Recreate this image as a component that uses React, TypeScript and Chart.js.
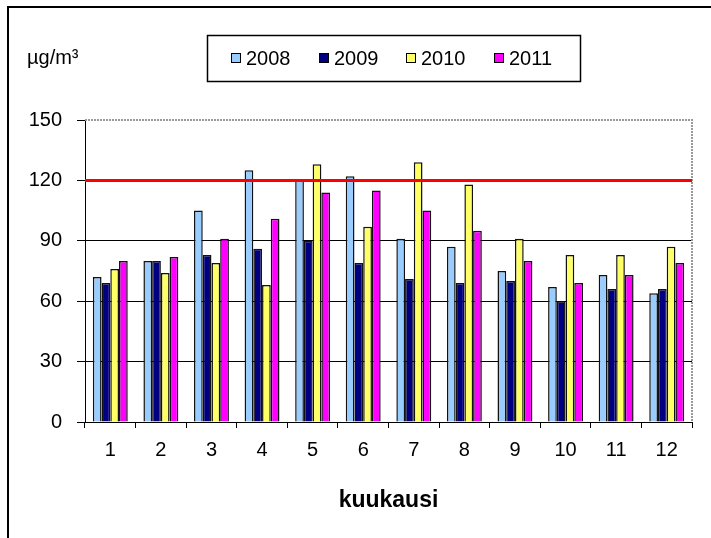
import React, { useEffect, useRef } from "react";
import { Chart, registerables } from "chart.js";

Chart.register(...registerables);

const categories = ["1", "2", "3", "4", "5", "6", "7", "8", "9", "10", "11", "12"];
const seriesLabels = ["2008", "2009", "2010", "2011"];
const values2008 = [72, 80, 105, 125, 120, 122, 91, 87, 75, 67, 73, 64];
const values2009 = [69, 80, 83, 86, 90, 79, 71, 69, 70, 60, 66, 66];
const values2010 = [76, 74, 79, 68, 128, 97, 129, 118, 91, 83, 83, 87];
const values2011 = [80, 82, 91, 101, 114, 115, 105, 95, 80, 69, 73, 79];
const seriesColors = ["#99CCFF", "#000080", "#FFFF66", "#FF00FF"];
const yMin = 0;
const yMax = 150;
const yStep = 30;
const limitValue = 120;
const unitLabel = "µg/m³";
const xTitle = "kuukausi";

const FONT = "'Liberation Sans', Arial, sans-serif";

const decorPlugin = {
  id: "decor",
  beforeDatasetsDraw(chart: any) {
    const { ctx, chartArea } = chart;
    ctx.save();
    ctx.strokeStyle = "#9a9a9a";
    ctx.lineWidth = 2;
    ctx.setLineDash([2, 1]);
    ctx.beginPath();
    ctx.moveTo(chartArea.left, chartArea.top);
    ctx.lineTo(chartArea.right, chartArea.top);
    ctx.lineTo(chartArea.right, chartArea.bottom);
    ctx.stroke();
    ctx.restore();
  },
  afterDatasetsDraw(chart: any) {
    const { ctx, chartArea, scales } = chart;
    const y = scales.y.getPixelForValue(limitValue);
    ctx.save();
    ctx.strokeStyle = "#FF0000";
    ctx.lineWidth = 3;
    ctx.beginPath();
    ctx.moveTo(chartArea.left, y);
    ctx.lineTo(chartArea.right, y);
    ctx.stroke();
    ctx.restore();
  },
  afterDraw(chart: any) {
    const { ctx } = chart;
    ctx.save();
    // outer frame (top and left)
    ctx.fillStyle = "#000";
    ctx.fillRect(7, 6, 704, 2);
    ctx.fillRect(7, 6, 2, 532);
    // unit label
    ctx.font = `20px ${FONT}`;
    ctx.textBaseline = "middle";
    ctx.textAlign = "left";
    ctx.fillText(unitLabel, 27, 58);
    // legend
    ctx.strokeStyle = "#000";
    ctx.lineWidth = 1.5;
    ctx.strokeRect(207.5, 35.5, 373, 46);
    const starts = [231, 319, 406, 494];
    chart.data.datasets.forEach((ds: any, i: number) => {
      const x = starts[i];
      ctx.fillStyle = ds.backgroundColor;
      ctx.fillRect(x, 53, 10, 10);
      ctx.lineWidth = 1;
      ctx.strokeRect(x + 0.5, 53.5, 9, 9);
      ctx.fillStyle = "#000";
      ctx.fillText(ds.label, x + 15, 59);
    });
    ctx.restore();
  },
};

export default function App() {
  const canvasRef = useRef<HTMLCanvasElement>(null);

  useEffect(() => {
    document.body.style.margin = "0";
    const canvas = canvasRef.current!;
    const allValues = [values2008, values2009, values2010, values2011];
    const chart = new Chart(canvas, {
      type: "bar",
      data: {
        labels: categories,
        datasets: seriesLabels.map((label, i) => ({
          label,
          data: allValues[i],
          backgroundColor: seriesColors[i],
          borderColor: "#111",
          borderWidth: 1.5,
          categoryPercentage: 0.69,
          barPercentage: 1.0,
        })),
      },
      options: {
        responsive: false,
        animation: false,
        devicePixelRatio: 1,
        layout: { padding: { top: 120, left: 0, right: 19, bottom: 24 } },
        plugins: {
          legend: { display: false },
          tooltip: { enabled: false },
          title: { display: false },
        },
        scales: {
          x: {
            type: "category",
            offset: true,
            grid: {
              offset: true,
              drawOnChartArea: false,
              drawTicks: true,
              tickLength: 6,
              color: "#000",
              tickColor: "#000",
            },
            border: { color: "#000", width: 1 },
            ticks: {
              font: { family: FONT, size: 20 },
              color: "#000",
              padding: 10,
              maxRotation: 0,
              autoSkip: false,
            },
            title: {
              display: true,
              text: xTitle,
              font: { family: FONT, size: 23, weight: "bold" },
              color: "#000",
              padding: { top: 0, bottom: 0 },
            },
            afterFit(scale: any) {
              scale.height = 92;
            },
          },
          y: {
            min: yMin,
            max: yMax,
            grid: {
              color: (ctx: any) => (ctx.tick && ctx.tick.value === yMax ? "rgba(0,0,0,0)" : "#000"),
              tickColor: "#000",
              tickLength: 8,
              lineWidth: 1,
            },
            border: { color: "#000", width: 1 },
            ticks: {
              stepSize: yStep,
              font: { family: FONT, size: 20 },
              color: "#000",
              padding: 15,
            },
            afterFit(scale: any) {
              scale.width = 85;
            },
          },
        },
      },
      plugins: [decorPlugin],
    });
    return () => chart.destroy();
  }, []);

  return (
    <div style={{ position: "absolute", left: 0, top: 0, width: 711, height: 538, background: "#fff" }}>
      <canvas ref={canvasRef} width={711} height={538} />
    </div>
  );
}
